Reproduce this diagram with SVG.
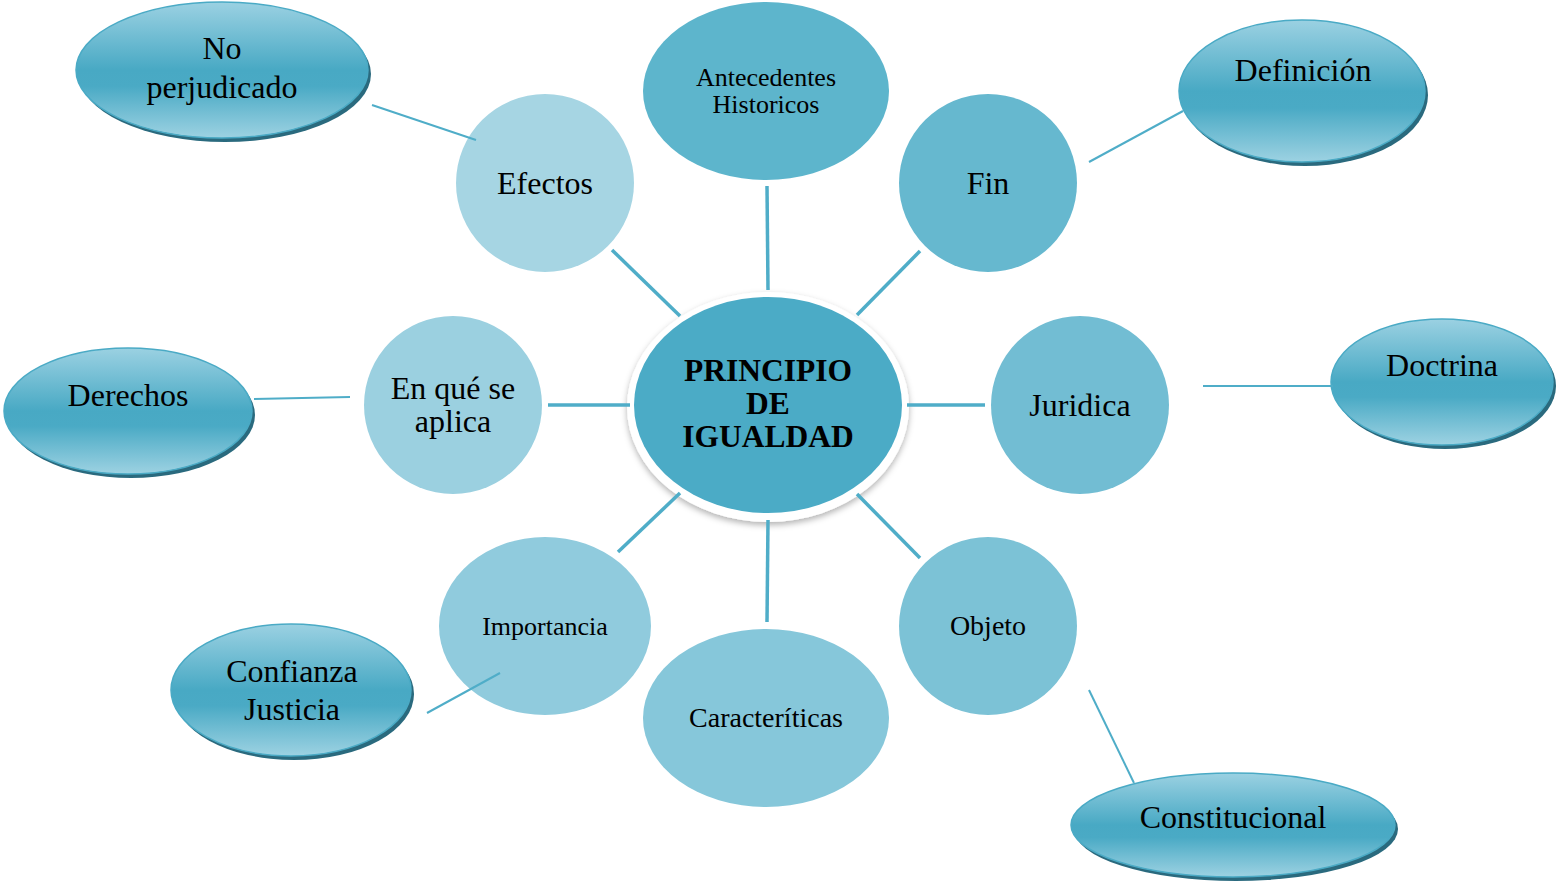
<svg xmlns="http://www.w3.org/2000/svg" width="1557" height="883" viewBox="0 0 1557 883">
<defs>
<linearGradient id="g" x1="0" y1="0" x2="0" y2="1">
<stop offset="0" stop-color="#9bd1e2"/>
<stop offset="0.5" stop-color="#48a9c4"/>
<stop offset="0.62" stop-color="#4aaac5"/>
<stop offset="1" stop-color="#9dd2e2"/>
</linearGradient>
<filter id="sh" x="-10%" y="-10%" width="120%" height="130%">
<feDropShadow dx="0" dy="3" stdDeviation="3" flood-color="#000" flood-opacity="0.3"/>
</filter>
</defs>
<style>
text{font-family:"Liberation Serif","Times New Roman",serif;fill:#000;text-anchor:middle;font-size:32px}
.c{stroke:#4fadc8;stroke-width:3.5;fill:none}
.t{stroke:#4fadc8;stroke-width:2;fill:none}
.o{fill:url(#g);stroke:#4aaac5;stroke-width:1.5}
.s{fill:#2a6a7e}
</style>
<g id="center">
<ellipse cx="768" cy="407" rx="141" ry="115" fill="#fff" filter="url(#sh)"/>
<ellipse cx="768" cy="405" rx="134" ry="108" fill="#4babc6"/>
<text x="768" y="381" style="font-size:31.5px" font-weight="bold">PRINCIPIO</text>
<text x="768" y="414" style="font-size:31.5px" font-weight="bold">DE</text>
<text x="768" y="447" style="font-size:31.5px" font-weight="bold">IGUALDAD</text>
</g>
<g id="efectos">
<circle cx="545" cy="183" r="89" fill="#a6d5e3"/>
<text x="545" y="194">Efectos</text>
</g>
<g id="antecedentes">
<ellipse cx="766" cy="91" rx="123" ry="89" fill="#5db5cc"/>
<text x="766" y="86" style="font-size:26px">Antecedentes</text>
<text x="766" y="113" style="font-size:26px">Historicos</text>
</g>
<g id="fin">
<circle cx="988" cy="183" r="89" fill="#66b8cf"/>
<text x="988" y="194">Fin</text>
</g>
<g id="juridica">
<circle cx="1080" cy="405" r="89" fill="#72bdd3"/>
<text x="1080" y="416">Juridica</text>
</g>
<g id="objeto">
<circle cx="988" cy="626" r="89" fill="#7cc2d6"/>
<text x="988" y="635" style="font-size:28px">Objeto</text>
</g>
<g id="caracteristicas">
<ellipse cx="766" cy="718" rx="123" ry="89" fill="#86c7da"/>
<text x="766" y="727" style="font-size:28px">Caracteríticas</text>
</g>
<g id="importancia">
<ellipse cx="545" cy="626" rx="106" ry="89" fill="#90cbdd"/>
<text x="545" y="635" style="font-size:26px">Importancia</text>
</g>
<g id="aplica">
<circle cx="453" cy="405" r="89" fill="#9bd0e0"/>
<text x="453" y="399">En qué se</text>
<text x="453" y="432">aplica</text>
</g>
<g id="noperjudicado">
<ellipse class="s" cx="225" cy="74" rx="146" ry="68"/>
<ellipse class="o" cx="222" cy="70" rx="146" ry="68"/>
<text x="222" y="59">No</text>
<text x="222" y="98">perjudicado</text>
</g>
<g id="definicion">
<ellipse class="s" cx="1305" cy="95" rx="123" ry="71"/>
<ellipse class="o" cx="1302" cy="91" rx="123" ry="71"/>
<text x="1303" y="81">Definición</text>
</g>
<g id="doctrina">
<ellipse class="s" cx="1445" cy="386" rx="111" ry="63"/>
<ellipse class="o" cx="1442" cy="382" rx="111" ry="63"/>
<text x="1442" y="376">Doctrina</text>
</g>
<g id="derechos">
<ellipse class="s" cx="131" cy="415" rx="124" ry="63"/>
<ellipse class="o" cx="128" cy="411" rx="124" ry="63"/>
<text x="128" y="406">Derechos</text>
</g>
<g id="confianza">
<ellipse class="s" cx="294" cy="694" rx="120" ry="66"/>
<ellipse class="o" cx="291" cy="690" rx="120" ry="66"/>
<text x="292" y="682">Confianza</text>
<text x="292" y="720">Justicia</text>
</g>
<g id="constitucional">
<ellipse class="s" cx="1236" cy="829" rx="162" ry="52"/>
<ellipse class="o" cx="1233" cy="825" rx="162" ry="52"/>
<text x="1233" y="828">Constitucional</text>
</g>
<g id="connectors">
<line class="c" x1="612" y1="250" x2="680" y2="316"/>
<line class="c" x1="767" y1="186" x2="768" y2="290"/>
<line class="c" x1="920" y1="251" x2="857" y2="315"/>
<line class="c" x1="907" y1="405" x2="985" y2="405"/>
<line class="c" x1="857" y1="494" x2="920" y2="558"/>
<line class="c" x1="768" y1="520" x2="767" y2="622"/>
<line class="c" x1="680" y1="493" x2="618" y2="552"/>
<line class="c" x1="548" y1="405" x2="630" y2="405"/>
<line class="t" x1="372" y1="105" x2="476" y2="140"/>
<line class="t" x1="1089" y1="162" x2="1183" y2="111"/>
<line class="t" x1="1203" y1="386" x2="1333" y2="386"/>
<line class="t" x1="254" y1="399" x2="350" y2="397"/>
<line class="t" x1="427" y1="713" x2="500" y2="673"/>
<line class="t" x1="1089" y1="690" x2="1134" y2="783"/>
</g>
</svg>
